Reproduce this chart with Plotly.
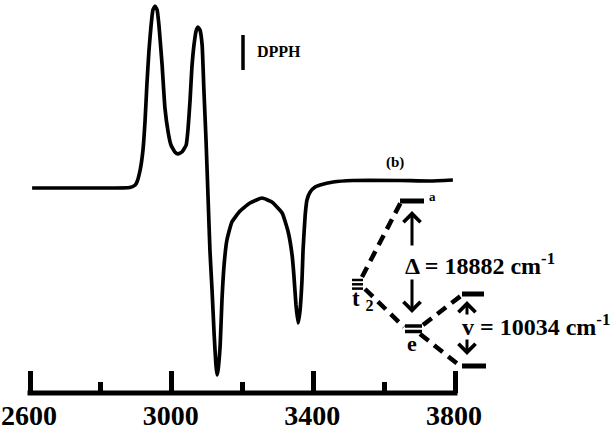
import plotly.graph_objects as go

# spectrum: magnetic field (G) and signal (arb. units)
field = [2606, 2798, 2882, 2897, 2902, 2911, 2919, 2925, 2930, 2936, 2942, 2947, 2953,
         2959, 2964, 2973, 2981, 2990, 2998, 3009, 3018, 3029, 3041, 3046, 3052, 3057,
         3063, 3069, 3074, 3080, 3086, 3091, 3097, 3103, 3108, 3114, 3120, 3125, 3128,
         3131, 3137, 3142, 3148, 3156, 3170, 3193, 3221, 3255, 3283, 3312, 3329, 3340,
         3345, 3351, 3357, 3362, 3368, 3371, 3377, 3382, 3391, 3405, 3419, 3456, 3512,
         3645, 3729, 3794]
signal = [-3, -3, -2.5, 0, 3, 15, 35, 65, 100, 135, 160, 175, 179,
          175, 160, 120, 77, 53, 40, 33, 31, 33, 40, 55, 85, 117,
          140, 154, 158, 155, 140, 95, 45, -15, -65, -105, -150, -180, -190,
          -185, -160, -115, -80, -55, -37, -26, -18, -13, -17, -28, -47, -70,
          -90, -120, -138, -127, -95, -65, -30, -15, -7, -2, 0, 3, 4.5,
          4.5, 4, 5]

major_ticks = [2600, 3000, 3400, 3800]
minor_ticks = [2800, 3200, 3600]

FONT = "Liberation Serif, Times New Roman, serif"
W, H, PB = 614, 436, 393          # figure size, bottom of plotting area (px)
X0, PXU = 2515.3, 2.8235          # field at left edge, field units per pixel


def px(x):
    return x / W


def py(y):
    return (PB - y) / PB


fig = go.Figure()
fig.add_trace(go.Scatter(x=field, y=signal, mode="lines",
                         line=dict(color="black", width=3.7, shape="spline", smoothing=0.4),
                         hoverinfo="skip", showlegend=False))

shapes = []
# axis line
shapes.append(dict(type="line", xref="x", yref="paper", x0=2600 - 7, x1=3800 + 7, y0=0, y1=0,
                   line=dict(color="black", width=5)))
# DPPH marker
shapes.append(dict(type="line", xref="paper", yref="paper", x0=px(243), x1=px(243), y0=py(35), y1=py(70),
                   line=dict(color="black", width=3.5)))

# energy level diagram
levels = [((400, 201), (424, 201), 5), ((352, 280), (363, 280), 2.5), ((352, 284.3), (363, 284.3), 2.5),
          ((352, 288.6), (363, 288.6), 2.5), ((405, 326), (422, 326), 3.5), ((405, 331.5), (422, 331.5), 3.5),
          ((462, 294), (484, 294), 5), ((462, 366), (486, 366), 5)]
for (a, b, w) in levels:
    shapes.append(dict(type="line", xref="paper", yref="paper", x0=px(a[0]), y0=py(a[1]), x1=px(b[0]), y1=py(b[1]),
                       line=dict(color="black", width=w)))
dashes = [((362, 277), (401, 202)), ((365, 289), (404, 327)), ((423, 325), (462, 295)), ((420, 334), (459, 365))]
for (a, b) in dashes:
    shapes.append(dict(type="line", xref="paper", yref="paper", x0=px(a[0]), y0=py(a[1]), x1=px(b[0]), y1=py(b[1]),
                       line=dict(color="black", width=4.5, dash="11px,7px")))

ann = []
arrows = [((412, 247), (412, 211)), ((412, 278), (412, 313)), ((467, 316), (467, 301)), ((467, 338), (467, 355))]
for (t, h) in arrows:
    ann.append(dict(xref="paper", yref="paper", axref="pixel", ayref="pixel", x=px(h[0]), y=py(h[1]),
                    ax=t[0] - h[0], ay=t[1] - h[1], text="", showarrow=True, arrowhead=4, arrowsize=1.1,
                    arrowwidth=3, arrowcolor="black"))


def label(x, y, text, size, xanchor="center"):
    ann.append(dict(xref="paper", yref="paper", x=px(x), y=py(y), text=text, showarrow=False,
                    xanchor=xanchor, yanchor="middle", font=dict(family=FONT, size=size, color="black", weight="bold")))


label(255, 52, "DPPH", 16, "left")
label(395, 162, "(b)", 15)
label(432, 196, "a", 13)
label(362, 300, "t <sub>2</sub>", 23)
label(412, 343, "e", 22)
label(403, 264, "Δ = 18882 cm<sup>-1</sup>", 24, "left")
label(460, 325, "v = 10034 cm<sup>-1</sup>", 24, "left")

fig.update_layout(
    width=W, height=H, margin=dict(l=0, r=0, t=0, b=H - PB),
    paper_bgcolor="white", plot_bgcolor="white",
    shapes=shapes, annotations=ann,
    xaxis=dict(range=[X0, X0 + W * PXU], showgrid=False, zeroline=False, showline=False, automargin=False,
               tickvals=major_ticks, ticktext=[str(v) for v in major_ticks], ticks="inside",
               ticklen=22, tickwidth=5, tickcolor="black", ticklabelstandoff=3, ticklabelshift=-1,
               ticklabeloverflow="allow",
               tickfont=dict(family=FONT, size=28, color="black", weight="bold"),
               minor=dict(tickvals=minor_ticks, ticks="inside", ticklen=11, tickwidth=5, tickcolor="black")),
    yaxis=dict(range=[185 - PB, 185], visible=False, automargin=False),
)

# the page's default body margin would push the figure 8px off the window
fig.write_html("out.html", config={"displayModeBar": False},
               post_script="document.body.style.margin='0';")
